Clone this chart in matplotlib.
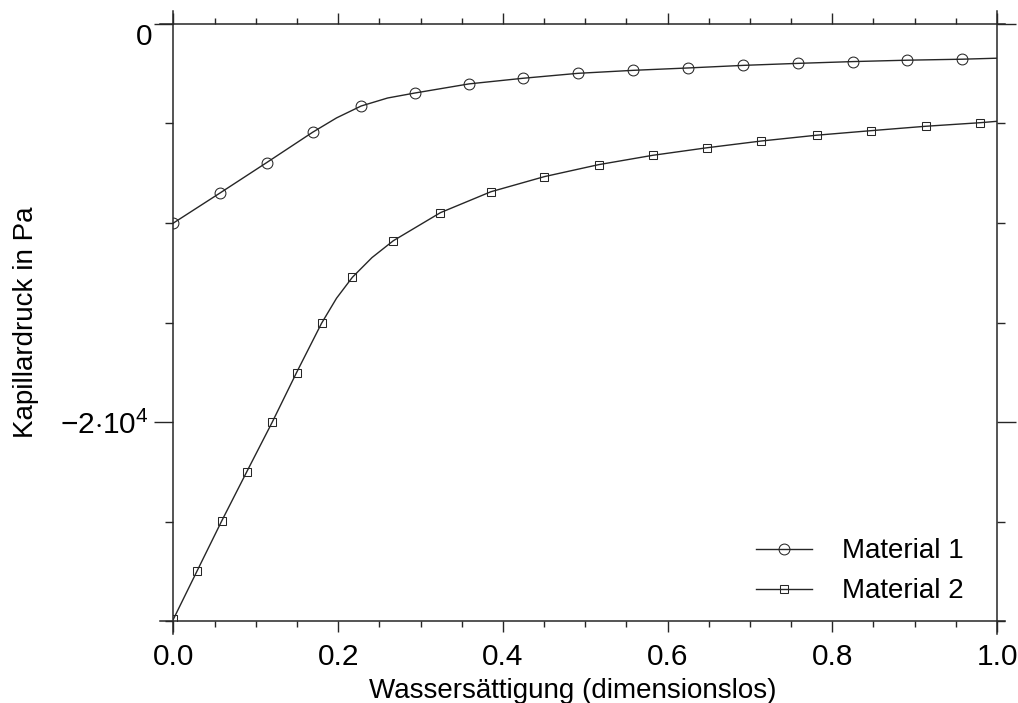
import numpy as np
import matplotlib.pyplot as plt
from matplotlib.ticker import MultipleLocator, FixedLocator, FixedFormatter

plt.rcParams['font.family'] = ['Liberation Sans', 'DejaVu Sans']
plt.rcParams['mathtext.fontset'] = 'custom'
plt.rcParams['mathtext.rm'] = 'Liberation Sans'
plt.rcParams['mathtext.it'] = 'Liberation Sans:italic'

# Saettigung / Kapillardruck, Material 1
s1 = [0.0, 0.057, 0.113, 0.169, 0.198, 0.228, 0.260, 0.293, 0.359, 0.424,
      0.491, 0.558, 0.625, 0.692, 0.758, 0.825, 0.891, 0.958, 1.0]
pc1 = [-10000, -8480, -6970, -5440, -4720, -4120, -3720, -3470, -3010, -2730,
       -2480, -2330, -2210, -2080, -1980, -1890, -1820, -1770, -1720]
mk1 = [0, 1, 2, 3, 5, 7, 8, 9, 10, 11, 12, 13, 14, 15, 16, 17]

# Material 2
s2 = [0.0, 0.0286, 0.0586, 0.089, 0.1199, 0.1494, 0.1798, 0.198, 0.2172,
      0.241, 0.267, 0.3242, 0.3854, 0.4504, 0.5161, 0.5818, 0.6478, 0.7139,
      0.7808, 0.8473, 0.9134, 0.9799, 1.0]
pc2 = [-29900, -27490, -24970, -22500, -20010, -17520, -15040, -13780, -12730,
       -11740, -10890, -9480, -8430, -7670, -7070, -6600, -6220, -5880,
       -5590, -5360, -5140, -4960, -4890]
mk2 = [0, 1, 2, 3, 4, 5, 6, 8, 10, 11, 12, 13, 14, 15, 16, 17, 18, 19, 20, 21]

xticks = [0.0, 0.2, 0.4, 0.6, 0.8, 1.0]
xticklabels = ['0.0', '0.2', '0.4', '0.6', '0.8', '1.0']
yticks = [-20000, 0]
yticklabels = [r'$-2{\cdot}10^4$', '']

col = '#262626'
fig = plt.figure(figsize=(10.18, 7.03), dpi=100)
ax = fig.add_axes([0.1704, 0.1166, 0.8090, 0.8493])

ax.plot(s1, pc1, '-', color=col, lw=1.0, marker='o', ms=7.8, mfc='none',
        mec=col, mew=0.75, markevery=mk1, label='Material 1')
ax.plot(s2, pc2, '-', color=col, lw=1.0, marker='s', ms=6.3, mfc='none',
        mec=col, mew=0.75, markevery=mk2, label='Material 2')

ax.set_xlim(0, 1)
ax.set_ylim(-30000, 0)

# Rahmen selbst zeichnen, etwas ueber die Ecken hinaus
for sp in ax.spines.values():
    sp.set_visible(False)
ex, ey = 0.016, 0.021
kw = dict(transform=ax.transAxes, clip_on=False, color=col, lw=1.1)
ax.plot([0, 0], [-ey, 1 + ey], **kw)
ax.plot([1, 1], [-ey, 1 + ey], **kw)
ax.plot([-ex, 1 + ex * 0.6], [0, 0], **kw)
ax.plot([-ex, 1 + ex * 0.6], [1, 1], **kw)

ax.xaxis.set_major_locator(FixedLocator(xticks))
ax.xaxis.set_major_formatter(FixedFormatter(xticklabels))
ax.xaxis.set_minor_locator(MultipleLocator(0.05))
ax.yaxis.set_major_locator(FixedLocator(yticks))
ax.yaxis.set_major_formatter(FixedFormatter(yticklabels))
ax.yaxis.set_minor_locator(MultipleLocator(5000))

ax.tick_params(which='both', direction='out', top=True, right=True,
               color=col, width=1.0)
ax.tick_params(axis='x', which='major', length=8, pad=8, labelsize=21.5)
ax.tick_params(which='minor', length=4.5)
ax.tick_params(axis='y', which='minor', length=5.5)
ax.tick_params(axis='y', which='major', length=14, pad=3.5, labelsize=21.5)

# Null-Beschriftung sitzt etwas unterhalb der Achse
ax.annotate('0', xy=(0, 0), xycoords=('axes fraction', 'data'),
            xytext=(-21, -13), textcoords='offset pixels',
            ha='right', va='center', fontsize=21.5)

ax.set_xlabel('Wassersättigung (dimensionslos)', fontsize=20)
ax.xaxis.set_label_coords(0.485, -0.095)
ax.set_ylabel('Kapillardruck in Pa', fontsize=20, labelpad=15)

ax.legend(loc='lower right', frameon=False, fontsize=20, handlelength=2.0,
          handletextpad=1.1, labelspacing=0.5, borderaxespad=0.2,
          bbox_to_anchor=(0.98, 0.0))

fig.savefig('out.png', dpi=100)
